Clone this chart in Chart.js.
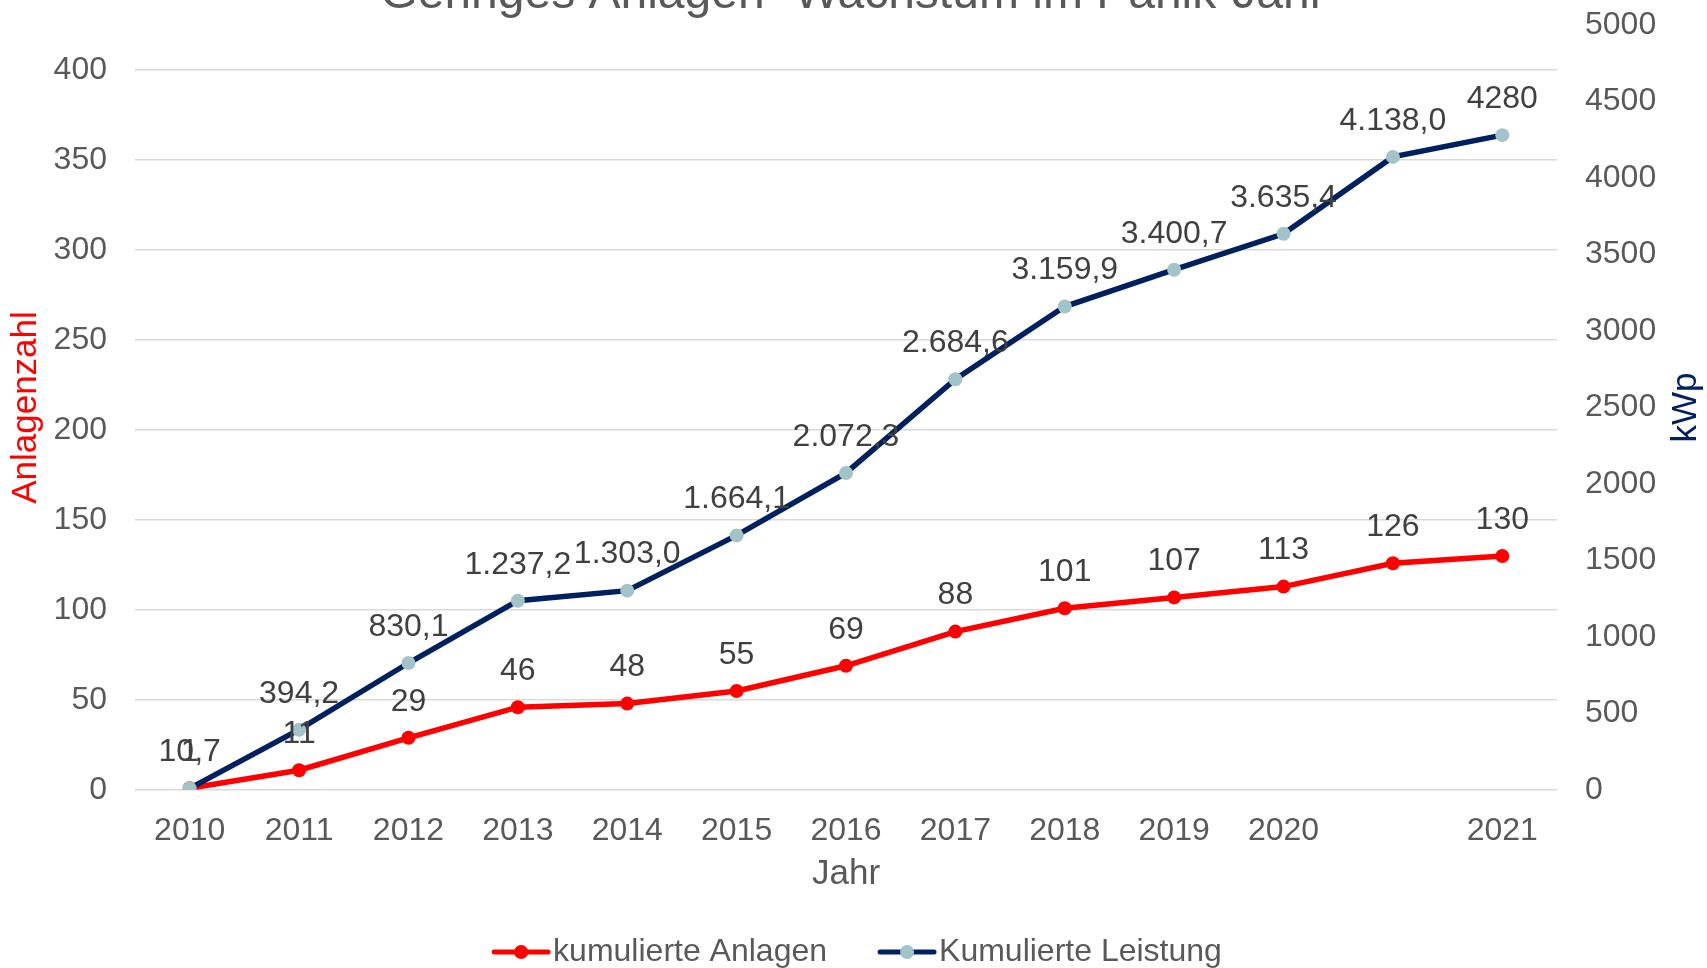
<!DOCTYPE html>
<html>
<head>
<meta charset="utf-8">
<script src="https://cdn.jsdelivr.net/npm/chart.js@4/dist/chart.umd.min.js"></script>
<style>
  html, body { margin: 0; background: #fff; }
  #wrap { width: 1707px; height: 968px; position: relative; }
</style>
</head>
<body>
<div id="wrap"><canvas id="growthChart"></canvas></div>
<script>
var years = ['2010', '2011', '2012', '2013', '2014', '2015', '2016', '2017', '2018', '2019', '2020', '', '2021'];
var anlagen = [1, 11, 29, 46, 48, 55, 69, 88, 101, 107, 113, 126, 130];
var leistung = [10.7, 394.2, 830.1, 1237.2, 1303.0, 1664.1, 2072.3, 2684.6, 3159.9, 3400.7, 3635.4, 4138.0, 4280];
var anlagenLabels = ['1', '11', '29', '46', '48', '55', '69', '88', '101', '107', '113', '126', '130'];
var leistungLabels = ['10,7', '394,2', '830,1', '1.237,2', '1.303,0', '1.664,1', '2.072,3', '2.684,6', '3.159,9', '3.400,7', '3.635,4', '4.138,0', '4280'];

var FONT = '"Liberation Sans", Arial, sans-serif';
var GREY = '#595959';
var RED = '#ff0000';
var NAVY = '#002060';
var DOT = '#a2c4c9';

// labels, axis titles, title and legend drawn by hand
var extras = {
    id: 'extras',
    afterDatasetsDraw: function(chart) {
        var ctx = chart.ctx;
        ctx.save();
        ctx.font = '32px ' + FONT;
        ctx.fillStyle = '#404040';
        ctx.textAlign = 'center';
        ctx.textBaseline = 'middle';
        [0, 1].forEach(function(i) {
            var labels = chart.data.datasets[i].valueLabels;
            chart.getDatasetMeta(i).data.forEach(function(pt, j) {
                ctx.fillText(labels[j], pt.x, pt.y - 36);
            });
        });
        ctx.restore();
    },
    afterDraw: function(chart) {
        var ctx = chart.ctx;
        var area = chart.chartArea;
        var midY = (area.top + area.bottom) / 2;
        ctx.save();

        // title (cut off at the top edge)
        ctx.font = '48px ' + FONT;
        ctx.fillStyle = GREY;
        ctx.textAlign = 'center';
        ctx.textBaseline = 'alphabetic';
        ctx.fillText('Geringes Anlagen -Wachstum im Panik-Jahr', 853, 8);

        // axis titles
        ctx.font = '35px ' + FONT;
        ctx.textBaseline = 'middle';
        ctx.fillStyle = GREY;
        ctx.fillText('Jahr', (area.left + area.right) / 2, 874);

        ctx.save();
        ctx.translate(26, midY);
        ctx.rotate(-Math.PI / 2);
        ctx.fillStyle = RED;
        ctx.fillText('Anlagenzahl', 0, 0);
        ctx.restore();

        ctx.save();
        ctx.translate(1686, midY);
        ctx.rotate(-Math.PI / 2);
        ctx.fillStyle = NAVY;
        ctx.fillText('kWp', 0, 0);
        ctx.restore();

        // legend
        ctx.font = '32px ' + FONT;
        ctx.textAlign = 'left';
        var items = [
            { text: 'kumulierte Anlagen', line: RED, dot: RED },
            { text: 'Kumulierte Leistung', line: NAVY, dot: DOT }
        ];
        var gap = 53, sym = 54;
        var total = gap;
        items.forEach(function(it) {
            it.w = ctx.measureText(it.text).width;
            total += sym + 5 + it.w;
        });
        var x = 858 - total / 2;
        var y = 952;
        items.forEach(function(it) {
            ctx.strokeStyle = it.line;
            ctx.lineWidth = 5;
            ctx.lineCap = 'round';
            ctx.beginPath();
            ctx.moveTo(x, y);
            ctx.lineTo(x + sym, y);
            ctx.stroke();
            ctx.fillStyle = it.dot;
            ctx.beginPath();
            ctx.arc(x + sym / 2, y, 7, 0, Math.PI * 2);
            ctx.fill();
            ctx.fillStyle = GREY;
            ctx.fillText(it.text, x + sym + 5, y);
            x += sym + 5 + it.w + gap;
        });
        ctx.restore();
    }
};

function fixWidth(w) {
    return function(s) {
        s.width = w;
        s.paddingTop = 0;
        s.paddingBottom = 0;
    };
}

var ctx = document.getElementById('growthChart').getContext('2d');
var myChart = new Chart(ctx, {
    type: 'line',
    data: {
        labels: years,
        datasets: [{
            label: 'kumulierte Anlagen',
            data: anlagen,
            valueLabels: anlagenLabels,
            yAxisID: 'y',
            order: 2,
            borderColor: RED,
            backgroundColor: RED,
            borderWidth: 5.5,
            pointRadius: 7,
            pointBackgroundColor: RED,
            pointBorderWidth: 0,
            tension: 0
        }, {
            label: 'Kumulierte Leistung',
            data: leistung,
            valueLabels: leistungLabels,
            yAxisID: 'y1',
            order: 1,
            borderColor: NAVY,
            backgroundColor: DOT,
            borderWidth: 5.5,
            pointRadius: 7,
            pointBackgroundColor: DOT,
            pointBorderWidth: 0,
            tension: 0
        }]
    },
    options: {
        responsive: true,
        maintainAspectRatio: false,
        animation: false,
        layout: { padding: { top: 25, left: 0, right: 0, bottom: 0 } },
        plugins: {
            legend: { display: false },
            title: { display: false },
            tooltip: { enabled: false }
        },
        scales: {
            x: {
                offset: true,
                grid: { display: false },
                border: { display: false },
                ticks: {
                    color: GREY,
                    font: { family: FONT, size: 32 },
                    padding: 14,
                    autoSkip: false,
                    maxRotation: 0
                },
                afterFit: function(s) {
                    s.height = 178;
                    s.paddingLeft = 0;
                    s.paddingRight = 0;
                }
            },
            y: {
                position: 'left',
                min: 0,
                max: 425,
                afterBuildTicks: function(s) {
                    s.ticks = s.ticks.filter(function(t) { return t.value <= 400; });
                },
                grid: { color: '#d9d9d9', lineWidth: 1.5, drawTicks: false },
                border: { display: false },
                ticks: {
                    stepSize: 50,
                    color: GREY,
                    font: { family: FONT, size: 32 },
                    padding: 28
                },
                afterFit: fixWidth(135)
            },
            y1: {
                position: 'right',
                min: 0,
                max: 5000,
                grid: { display: false, drawTicks: false },
                border: { display: false },
                ticks: {
                    stepSize: 500,
                    color: GREY,
                    font: { family: FONT, size: 32 },
                    padding: 28,
                    callback: function(v) { return String(v); }
                },
                afterFit: fixWidth(150)
            }
        }
    },
    plugins: [extras]
});
</script>
</body>
</html>
